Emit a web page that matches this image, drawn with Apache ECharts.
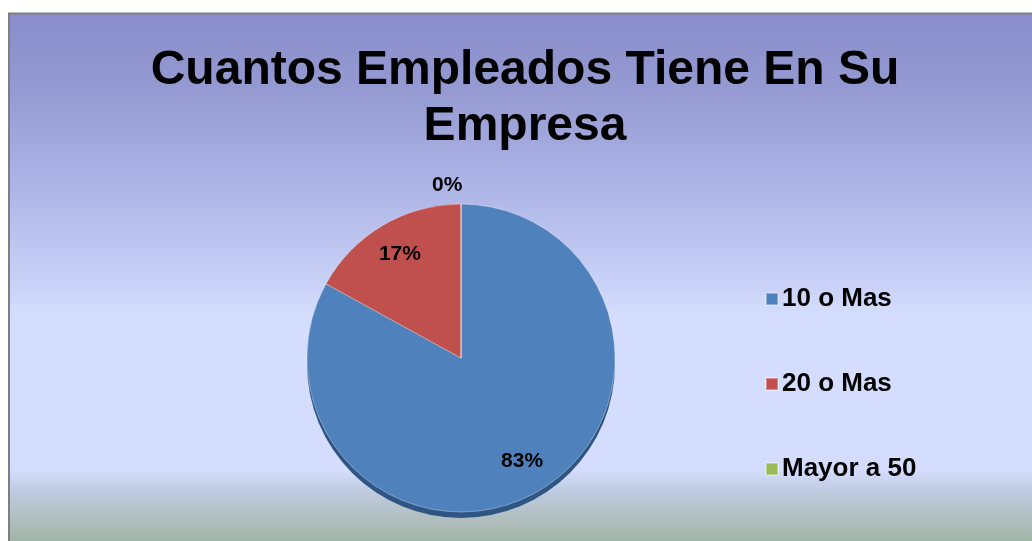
<!DOCTYPE html>
<html>
<head>
<meta charset="utf-8">
<style>
  html, body { margin: 0; padding: 0; background: #ffffff; }
  #chart { width: 1032px; height: 541px; }
</style>
<script src="https://cdn.jsdelivr.net/npm/echarts@6/dist/echarts.min.js"></script>
</head>
<body>
<div id="chart"></div>
<script>
const titleText = 'Cuantos Empleados Tiene En Su\nEmpresa';
const categories = ['10 o Mas', '20 o Mas', 'Mayor a 50'];
const percentValues = [83, 17, 0];

const sliceColors = ['#4f81bd', '#c0504d', '#9bbb59'];
const rimColors = ['#2f5584', '#7d2f2d', '#6a8a35'];

const chart = echarts.init(document.getElementById('chart'), null, { renderer: 'canvas' });

const pieCenter = [461, 358];
const pieRadius = 154;

const mainData = categories.map((name, i) => ({ name, value: percentValues[i], itemStyle: { color: sliceColors[i] } }));
const rimData = categories.map((name, i) => ({ name, value: percentValues[i], itemStyle: { color: rimColors[i] } }));
const labelData = categories.map((name, i) => ({ name, value: percentValues[i] }));

const option = {
  animation: false,
  graphic: [
    {
      type: 'rect',
      z: -10,
      silent: true,
      shape: { x: 9, y: 13.5, width: 1030, height: 536 },
      style: {
        fill: new echarts.graphic.LinearGradient(0, 0, 0, 1, [
          { offset: 0, color: '#8c8dd2' },
          { offset: 0.03, color: '#8b8fcc' },
          { offset: 0.15, color: '#959bd2' },
          { offset: 0.32, color: '#adb4e6' },
          { offset: 0.5, color: '#c8d1f6' },
          { offset: 0.56, color: '#d4ddfd' },
          { offset: 0.85, color: '#d4ddfd' },
          { offset: 0.89, color: '#bfcbe0' },
          { offset: 0.95, color: '#aebcba' },
          { offset: 1, color: '#98b09c' }
        ]),
        stroke: '#7f7f7f',
        lineWidth: 2
      }
    }
  ],
  title: {
    text: titleText,
    left: 520,
    top: 38,
    textAlign: 'center',
    textStyle: {
      fontFamily: 'Liberation Sans, Arial, sans-serif',
      fontWeight: 'bold',
      fontSize: 48,
      lineHeight: 56,
      color: '#000000'
    }
  },
  legend: {
    orient: 'vertical',
    left: 760,
    top: 281,
    itemWidth: 12,
    itemHeight: 12,
    itemGap: 59,
    icon: 'rect',
    data: categories,
    textStyle: {
      fontFamily: 'Liberation Sans, Arial, sans-serif',
      fontWeight: 'bold',
      fontSize: 26,
      color: '#000000',
      padding: [0, 0, 0, -1]
    }
  },
  series: [
    {
      name: 'main',
      type: 'pie',
      z: 3,
      center: pieCenter,
      radius: [0, pieRadius],
      startAngle: 90,
      clockwise: true,
      avoidLabelOverlap: false,
      silent: true,
      data: mainData,
      itemStyle: { borderColor: 'rgba(255,255,255,0.35)', borderWidth: 1 },
      label: {
        show: true,
        position: 'outside',
        formatter: p => (p.value === 0 ? p.value + '%' : ''),
        fontFamily: 'Liberation Sans, Arial, sans-serif',
        fontWeight: 'bold',
        fontSize: 21,
        color: '#000000',
        distanceToLabelLine: 0,
        offset: [-29, 0]
      },
      labelLine: { show: false, length: 19, length2: 0 }
    },
    {
      name: 'rim',
      type: 'pie',
      z: 2,
      center: [pieCenter[0], pieCenter[1] + 6],
      radius: [0, pieRadius],
      startAngle: 90,
      clockwise: true,
      silent: true,
      data: rimData,
      label: { show: false },
      labelLine: { show: false }
    },
    {
      name: 'labels',
      type: 'pie',
      z: 4,
      center: pieCenter,
      radius: [0, pieRadius * 1.52],
      startAngle: 90,
      clockwise: true,
      silent: true,
      avoidLabelOverlap: false,
      data: labelData,
      itemStyle: { color: 'rgba(0,0,0,0)', borderWidth: 0 },
      label: {
        show: true,
        position: 'inside',
        formatter: p => (p.value === 0 ? '' : p.value + '%'),
        fontFamily: 'Liberation Sans, Arial, sans-serif',
        fontWeight: 'bold',
        fontSize: 21,
        color: '#000000'
      },
      labelLine: { show: false }
    }
  ]
};

chart.setOption(option);
</script>
</body>
</html>
